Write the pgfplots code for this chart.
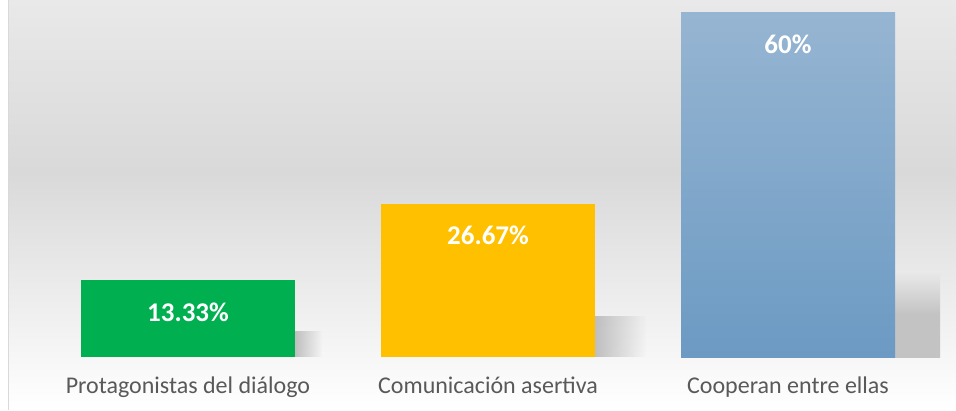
\documentclass[border=0pt]{standalone}
\usepackage{fontspec}
\setmainfont{Carlito}
\usepackage{pgfplots}
\pgfplotsset{compat=1.18}
\usetikzlibrary{fadings}

\definecolor{barGreen}{RGB}{0,176,80}
\definecolor{barGold}{RGB}{255,192,0}
\definecolor{blueTop}{RGB}{150,181,210}
\definecolor{blueBot}{RGB}{108,154,195}
\definecolor{labelGray}{RGB}{89,89,89}
\definecolor{bgTop}{RGB}{233,233,233}
\definecolor{bgMid}{RGB}{217,217,217}
\definecolor{bgLow}{RGB}{247,247,247}
\definecolor{edgeGray}{RGB}{217,217,217}
\definecolor{shadowGray}{RGB}{195,195,195}

% background: light grey at top, darker around upper third, white at bottom
\pgfdeclareverticalshading{chartbg}{100bp}{%
  color(0bp)=(white); color(25bp)=(white); color(31bp)=(bgLow);
  color(54bp)=(bgMid); color(75bp)=(bgTop); color(100bp)=(bgTop)}

\begin{document}
\begin{tikzpicture}
\begin{axis}[
  scale only axis,
  width=948bp, height=410bp,
  xmin=-0.6, xmax=2.56,
  ymin=-9.22, ymax=62.09,
  axis line style={draw=none},
  axis background/.style={shading=chartbg},
  major tick length=0pt,
  ytick=\empty,
  xtick={0,1,2},
  xticklabels={Protagonistas del diálogo, Comunicación asertiva, Cooperan entre ellas},
  xticklabel style={anchor=base, yshift=17bp, text=labelGray,
    font=\fontsize{24bp}{28bp}\selectfont},
  point meta=explicit symbolic,
  every node near coord/.append style={anchor=north, yshift=-19bp, text=white,
    font=\fontsize{27bp}{31bp}\selectfont\bfseries},
]
% soft shadows to the right of the bars
\addplot[ybar, bar width=0.09, bar shift=0.4017, draw=none, fill=black!25,
  path fading=east] coordinates {(0,4.5)};
\addplot[ybar, bar width=0.17, bar shift=0.4417, draw=none, fill=black!25,
  path fading=east] coordinates {(1,7.2)};
\addplot[ybar, bar width=0.15, bar shift=0.4317, draw=none, fill=shadowGray,
  top color=bgTop, bottom color=shadowGray, middle color=shadowGray]
  coordinates {(2,14.8)};

\addplot[ybar, bar width=0.7133, bar shift=0, draw=none, fill=barGreen,
  nodes near coords] coordinates {(0,13.33) [13.33\%]};
\addplot[ybar, bar width=0.7133, bar shift=0, draw=none, fill=barGold,
  nodes near coords] coordinates {(1,26.67) [26.67\%]};
\addplot[ybar, bar width=0.7133, bar shift=0, draw=none,
  top color=blueTop, bottom color=blueBot,
  nodes near coords] coordinates {(2,60) [60\%]};

\draw[line width=1.5bp, edgeGray] (rel axis cs:0,0) -- (rel axis cs:0,1);
\end{axis}
\path ([xshift=-8bp]current axis.south west);
\end{tikzpicture}
\end{document}
